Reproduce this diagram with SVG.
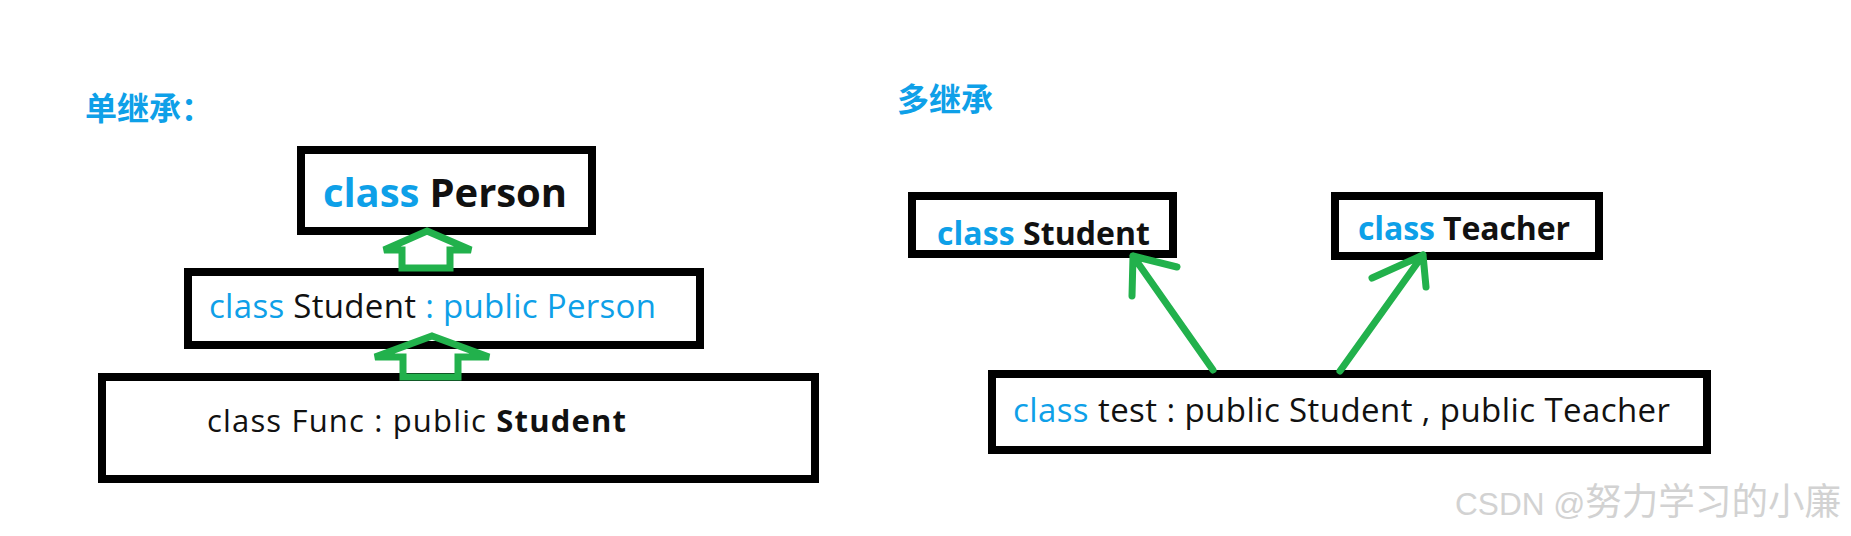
<svg xmlns="http://www.w3.org/2000/svg" width="1851" height="536" viewBox="0 0 1851 536">
<style>
.box{fill:#fff;stroke:#000;stroke-width:8}
.t{font-family:"Open Sans","Noto Sans","Liberation Sans",sans-serif;fill:#111}
.bd{font-weight:700}
.bl{fill:#0ea0e8}
.cjk{font-family:"Noto Sans CJK SC","Noto Sans",sans-serif;font-weight:700;fill:#0ea0e8}
.ar{fill:none;stroke:#22b14c;stroke-width:7;stroke-linejoin:miter}
.ln{fill:none;stroke:#22b14c;stroke-width:7;stroke-linecap:round;stroke-linejoin:round}
.wm{font-family:"Liberation Sans","Noto Sans CJK SC",sans-serif;fill:#d2d2d2}
</style>
<rect width="1851" height="536" fill="#fff"/>
<g id="title-single"><text class="cjk" x="85" y="120" font-size="32">单继承：</text></g>
<g id="title-multi"><text class="cjk" x="897" y="111" font-size="32">多继承</text></g>
<g id="person">
<rect class="box" x="301" y="150" width="291" height="81"/>
<text class="t bd" x="323" y="207" font-size="40" textLength="244"><tspan class="bl">class</tspan> Person</text>
</g>
<g id="student">
<rect class="box" x="188" y="272" width="512" height="73"/>
<text class="t" x="209" y="318" font-size="33" textLength="447"><tspan class="bl">class</tspan> Student <tspan class="bl">: public Person</tspan></text>
</g>
<g id="func">
<rect class="box" x="102" y="377" width="713" height="102"/>
<text class="t" x="207" y="432" font-size="31" textLength="419">class Func : public <tspan class="bd">Student</tspan></text>
</g>
<g id="student2">
<rect class="box" x="912" y="196" width="261" height="58"/>
<text class="t bd" x="937" y="245" font-size="32" textLength="213"><tspan class="bl">class</tspan> Student</text>
</g>
<g id="teacher">
<rect class="box" x="1335" y="196" width="264" height="60"/>
<text class="t bd" x="1358" y="240" font-size="32" textLength="212"><tspan class="bl">class</tspan> Teacher</text>
</g>
<g id="test">
<rect class="box" x="992" y="374" width="715" height="76"/>
<text class="t" x="1013" y="422" font-size="33" textLength="657"><tspan class="bl">class</tspan> test : public Student , public Teacher</text>
</g>
<g id="connectors">
<polygon class="ar" points="427,231 471,250 450,250 450,268 402,268 402,250 384,250"/>
<polygon class="ar" points="432,336 489,357 458,357 458,377 403,377 403,357 375,357"/>
<path class="ln" d="M1213,370 L1133,256 M1133,256 L1177,267 M1133,256 L1132,296"/>
<path class="ln" d="M1340,371 L1423,255 M1423,255 L1372,278 M1423,255 L1426,287"/>
</g>
<g id="watermark"><text class="wm" x="1455" y="515" font-size="32" textLength="386" lengthAdjust="spacingAndGlyphs">CSDN @<tspan font-size="37" font-family="Noto Sans CJK SC, sans-serif">努力学习的小廉</tspan></text></g>
</svg>
